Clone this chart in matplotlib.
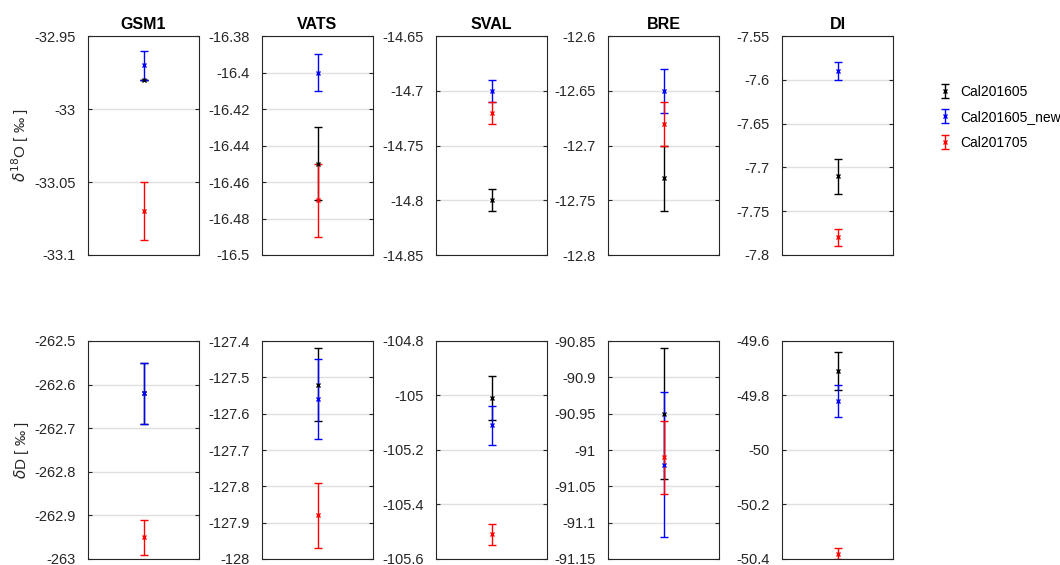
import numpy as np
import matplotlib
matplotlib.use('Agg')
import matplotlib.pyplot as plt
from matplotlib.ticker import FuncFormatter

plt.rcParams['font.family'] = ['Liberation Sans', 'DejaVu Sans']
plt.rcParams['mathtext.fontset'] = 'dejavusans'

sites = ['GSM1', 'VATS', 'SVAL', 'BRE', 'DI']
series = ['Cal201605', 'Cal201605_new', 'Cal201705']
colors = ['k', 'b', 'r']

# delta 18O values and errors per site
d18o_cal201605 = [-32.98, -16.45, -14.80, -12.73, -7.71]
d18o_cal201605_err = [0.0, 0.02, 0.01, 0.03, 0.02]
d18o_cal201605_new = [-32.97, -16.40, -14.70, -12.65, -7.59]
d18o_cal201605_new_err = [0.01, 0.01, 0.01, 0.02, 0.01]
d18o_cal201705 = [-33.07, -16.47, -14.72, -12.68, -7.78]
d18o_cal201705_err = [0.02, 0.02, 0.01, 0.02, 0.01]

# delta D values and errors per site
dd_cal201605 = [-262.62, -127.52, -105.01, -90.95, -49.71]
dd_cal201605_err = [0.07, 0.10, 0.08, 0.09, 0.07]
dd_cal201605_new = [-262.62, -127.56, -105.11, -91.02, -49.82]
dd_cal201605_new_err = [0.07, 0.11, 0.07, 0.10, 0.06]
dd_cal201705 = [-262.95, -127.88, -105.51, -91.01, -50.38]
dd_cal201705_err = [0.04, 0.09, 0.04, 0.05, 0.02]

# axis ranges and tick steps
d18o_ylim = [(-33.1, -32.95), (-16.5, -16.38), (-14.85, -14.65), (-12.8, -12.6), (-7.8, -7.55)]
d18o_step = [0.05, 0.02, 0.05, 0.05, 0.05]
dd_ylim = [(-263, -262.5), (-128, -127.4), (-105.6, -104.8), (-91.15, -90.85), (-50.4, -49.6)]
dd_step = [0.1, 0.1, 0.2, 0.05, 0.2]

rows = [
    ([d18o_cal201605, d18o_cal201605_new, d18o_cal201705],
     [d18o_cal201605_err, d18o_cal201605_new_err, d18o_cal201705_err],
     d18o_ylim, d18o_step, r'$\delta^{18}$O [ ‰ ]'),
    ([dd_cal201605, dd_cal201605_new, dd_cal201705],
     [dd_cal201605_err, dd_cal201605_new_err, dd_cal201705_err],
     dd_ylim, dd_step, r'$\delta$D [ ‰ ]'),
]

fig = plt.figure(figsize=(10.6, 5.65), dpi=100)

lefts = [88, 262, 436, 608, 782]
axw = 111
row_box = [(36, 255), (341, 559)]
W, H = 1060, 565
fmt = FuncFormatter(lambda v, p: '%g' % round(v, 6))
dark = (0.15, 0.15, 0.15)

handles = None
for r, (vals, errs, ylims, steps, ylabel) in enumerate(rows):
    top, bot = row_box[r]
    hs = []
    for i, site in enumerate(sites):
        ax = fig.add_axes([lefts[i] / W, 1 - bot / H, axw / W, (bot - top) / H])
        for s in range(3):
            h = ax.errorbar([1], [vals[s][i]], yerr=[errs[s][i]], fmt='x', color=colors[s],
                            ms=3.5, mew=1, elinewidth=1, capsize=3, capthick=1,
                            label=series[s])
            if i == 0:
                hs.append(h)
        lo, hi = ylims[i]
        ax.set_xlim(0.5, 1.5)
        ax.set_ylim(lo, hi)
        ax.set_yticks(np.arange(lo, hi + steps[i] / 2, steps[i]))
        ax.yaxis.set_major_formatter(fmt)
        ax.set_xticks([])
        ax.tick_params(axis='y', direction='in', left=True, right=True, length=3,
                       pad=9, labelsize=10.5, colors=dark, labelcolor=dark, width=0.8)
        ax.grid(axis='y', color=(0.88, 0.88, 0.88), linewidth=1)
        ax.set_axisbelow(True)
        for sp in ax.spines.values():
            sp.set_color(dark)
            sp.set_linewidth(0.8)
        if r == 0:
            ax.set_title(site, fontsize=11.5, fontweight='bold', pad=5)
        if i == 0:
            ax.set_ylabel(ylabel, fontsize=11, color=dark, labelpad=2)
    if r == 0:
        handles = hs

fig.legend(handles=handles, labels=series, loc='upper left',
           bbox_to_anchor=(924 / W, 1 - 72 / H), frameon=False, fontsize=10,
           handlelength=1.2, labelspacing=0.85, handletextpad=0.5)

fig.savefig('out.png', dpi=100)
